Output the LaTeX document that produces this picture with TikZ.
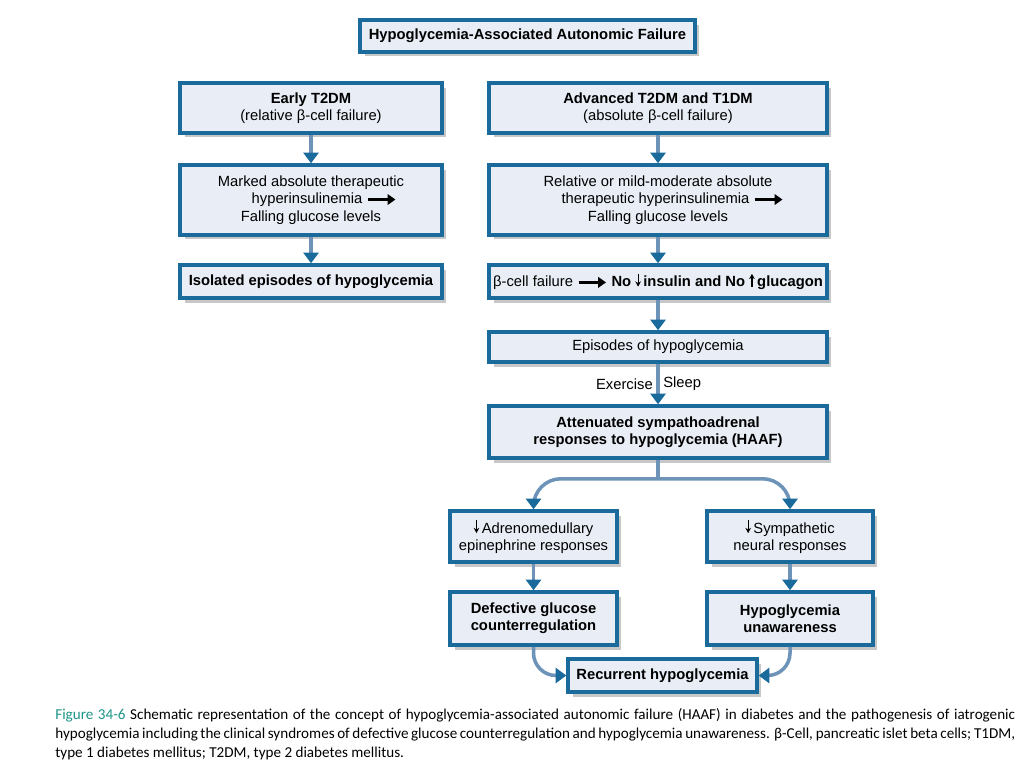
\documentclass[tikz,border=0pt]{standalone}
\usepackage{fontspec}
\setmainfont{Liberation Sans}
\newfontfamily\capfont{Carlito}
\usetikzlibrary{arrows.meta,shadows,calc}
\definecolor{bordc}{HTML}{1A6B9C}
\definecolor{fillc}{HTML}{E9EEF6}
\definecolor{stemc}{HTML}{6E93B8}
\definecolor{tipc}{HTML}{1A6A9C}
\definecolor{capteal}{HTML}{1E9488}
\newcommand{\harr}{\tikz[baseline=-0.55ex,x=1cm,y=1cm]\draw[black,line width=1.6pt,-{Triangle[length=4.5pt,width=6pt]}](0,0)--(0.55,0);}
\newcommand{\dnarr}{\tikz[baseline=0pt,x=1cm,y=1cm]\draw[black,line width=0.7pt,-{Stealth[length=3pt,width=3.2pt]}](0,1.65ex)--(0,0);}
\newcommand{\uparr}{\tikz[baseline=0pt,x=1cm,y=1cm]\draw[black,line width=0.7pt,-{Stealth[length=3pt,width=3.2pt]}](0,0)--(0,1.65ex);}
\begin{document}
\begin{tikzpicture}[x={(0.02cm,0)},y={(0,-0.02cm)},
  box/.style={draw=bordc,line width=2pt,fill=fillc,align=center,
    inner sep=1pt,
    font=\fontsize{8.4}{9.8}\selectfont,
    drop shadow={shadow xshift=0.09cm,shadow yshift=-0.09cm,fill=black!22,opacity=1}},
  flow/.style={draw=stemc,line width=2pt,-{Triangle[length=6pt,width=8.5pt,color=tipc]}},
  lbl/.style={font=\fontsize{8.4}{9.8}\selectfont,inner sep=2pt}]
\path[use as bounding box] (0,0) rectangle (1024,768);
\fill[white] (0,0) rectangle (1024,768);

\node[box,minimum width=6.7cm,minimum height=0.64cm] (title) at (527.5,36)
  {\bfseries Hypoglycemia-Associated Autonomic Failure};

\node[box,minimum width=5.24cm,minimum height=1.0cm] (early) at (311,108)
  {\bfseries Early T2DM\\(relative β-cell failure)};
\node[box,minimum width=5.24cm,minimum height=1.4cm] (marked) at (311,200)
  {Marked absolute therapeutic\\\hspace*{1.8em}hyperinsulinemia \harr\\Falling glucose levels};
\node[box,minimum width=5.24cm,minimum height=0.66cm] (isol) at (311,281.5)
  {\bfseries Isolated episodes of hypoglycemia};

\node[box,minimum width=6.76cm,minimum height=1.0cm] (adv) at (658,108)
  {\bfseries Advanced T2DM and T1DM\\(absolute β-cell failure)};
\node[box,minimum width=6.76cm,minimum height=1.4cm] (rel) at (658,200)
  {Relative or mild-moderate absolute\\\hspace*{2em}therapeutic hyperinsulinemia \harr\\Falling glucose levels};
\node[box,minimum width=6.76cm,minimum height=0.66cm] (beta) at (658,281.5)
  {β-cell failure \harr{} \textbf{No \dnarr\,insulin and No \uparr\,glucagon}};
\node[box,minimum width=6.76cm,minimum height=0.6cm] (epis) at (658,347)
  {Episodes of hypoglycemia};
\node[box,minimum width=6.76cm,minimum height=1.04cm] (atten) at (658,432)
  {\bfseries Attenuated sympathoadrenal\\\bfseries responses to hypoglycemia (HAAF)};

\node[box,minimum width=3.34cm,minimum height=1.02cm] (adreno) at (533.5,536.5)
  {\dnarr\,Adrenomedullary\\epinephrine responses};
\node[box,minimum width=3.32cm,minimum height=1.02cm] (symp) at (790,536.5)
  {\dnarr\,Sympathetic\\neural responses};
\node[box,minimum width=3.34cm,minimum height=1.06cm] (defect) at (533.5,618.5)
  {\bfseries Defective glucose\\\bfseries counterregulation};
\node[box,minimum width=3.32cm,minimum height=1.06cm] (unaw) at (790,618.5)
  {\bfseries Hypoglycemia\\\bfseries unawareness};
\node[box,minimum width=3.78cm,minimum height=0.66cm] (recur) at (662.5,675.5)
  {\bfseries Recurrent hypoglycemia};

\draw[flow] (early) -- (marked);
\draw[flow] (marked) -- (isol);
\draw[flow] (adv) -- (rel);
\draw[flow] (rel) -- (beta);
\draw[flow] (beta) -- (epis);
\draw[flow] (epis) -- node[lbl,left]{Exercise} node[lbl,right]{Sleep} (atten);

\coordinate (split) at ($(atten.south)+(0,19)$);
\draw[draw=stemc,line width=2pt] (atten.south) -- (split);
\draw[flow,rounded corners=0.55cm] (split) -| (adreno.north);
\draw[flow,rounded corners=0.55cm] (split) -| (symp.north);
\draw[flow] (adreno) -- (defect);
\draw[flow] (symp) -- (unaw);
\draw[flow,rounded corners=0.45cm] (defect.south) |- (recur.west);
\draw[flow,rounded corners=0.45cm] (unaw.south) |- (recur.east);

\node[anchor=north west,text width=19.2cm,align=justify,inner sep=0pt,
  font=\capfont\fontsize{8.6}{10.9}\selectfont] (cap) at (55,708)
  {\textcolor{capteal}{Figure 34-6} Schematic representation of the concept of hypoglycemia-associated autonomic failure (HAAF) in diabetes and the pathogenesis of iatrogenic\linebreak
  hypoglycemia including the clinical syndromes of defective glucose counterregulation and hypoglycemia unawareness. β-Cell, pancreatic islet beta cells; T1DM,\linebreak
  type 1 diabetes mellitus; T2DM, type 2 diabetes mellitus.};
\end{tikzpicture}
\end{document}
